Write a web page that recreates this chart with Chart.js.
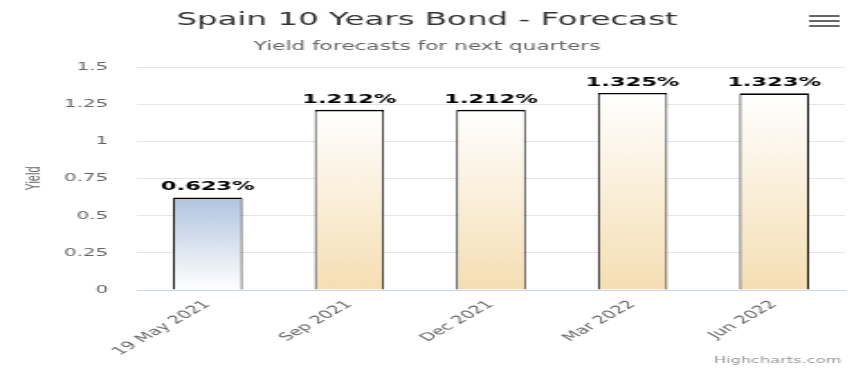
<!DOCTYPE html>
<html>
<head>
<meta charset="utf-8">
<script src="https://cdn.jsdelivr.net/npm/chart.js@4/dist/chart.umd.min.js"></script>
<style>
  html, body { margin: 0; padding: 0; background: #fff; }
</style>
</head>
<body>
<!-- drawn narrow, then stretched to the window like the reference -->
<canvas id="chart" width="474" height="368" style="display:block;width:854px;height:368px"></canvas>
<script>
/* ================= DATA ================= */
const TITLE = "Spain 10 Years Bond - Forecast";
const SUBTITLE = "Yield forecasts for next quarters";
const CREDITS = "Highcharts.com";

const categories = ["19 May 2021", "Sep 2021", "Dec 2021", "Mar 2022", "Jun 2022"];
const yields = [0.623, 1.212, 1.212, 1.325, 1.323];
const yTicks = [0, 0.25, 0.5, 0.75, 1, 1.25, 1.5];

/* gradient colours per bar, top and bottom */
const barTop = ["#b0c4de", "#ffffff", "#ffffff", "#ffffff", "#ffffff"];
const barBottom = ["#ffffff", "#f5deb3", "#f5deb3", "#f5deb3", "#f5deb3"];

const FONT = '"DejaVu Sans", Verdana, sans-serif';

/* ================= HELPERS ================= */
function barGradient(ctx) {
  const chart = ctx.chart;
  const i = ctx.dataIndex;
  if (!chart.chartArea || !chart.scales.y) return barBottom[i] || "#fff";
  const y = chart.scales.y;
  const top = y.getPixelForValue(yields[i]);
  const bottom = y.getPixelForValue(0);
  const g = chart.ctx.createLinearGradient(0, top, 0, bottom);
  g.addColorStop(0, barTop[i]);
  g.addColorStop(1, barBottom[i]);
  return g;
}

/* title, subtitle, menu icon, credits */
const frame = {
  id: "frame",
  afterDraw(chart) {
    const c = chart.ctx;
    c.save();
    c.textAlign = "center";
    c.textBaseline = "alphabetic";

    c.fillStyle = "#333333";
    c.font = "18px " + FONT;
    c.fillText(TITLE, chart.width / 2, 25);

    c.fillStyle = "#666666";
    c.font = "12px " + FONT;
    c.fillText(SUBTITLE, chart.width / 2, 50);

    // context menu (hamburger)
    c.strokeStyle = "#666666";
    c.lineWidth = 2;
    [16, 21, 26].forEach(yy => {
      c.beginPath();
      c.moveTo(449, yy);
      c.lineTo(466, yy);
      c.stroke();
    });

    c.textAlign = "right";
    c.fillStyle = "#999999";
    c.font = "9px " + FONT;
    c.fillText(CREDITS, 467, 363);
    c.restore();
  }
};

/* value labels above bars */
const valueLabels = {
  id: "valueLabels",
  afterDatasetsDraw(chart) {
    const c = chart.ctx;
    const meta = chart.getDatasetMeta(0);
    c.save();
    c.textAlign = "center";
    c.textBaseline = "alphabetic";
    c.font = "bold 12.5px " + FONT;
    c.lineJoin = "round";
    meta.data.forEach((bar, i) => {
      const txt = yields[i].toFixed(3) + "%";
      c.strokeStyle = "#ffffff";
      c.lineWidth = 2;
      c.strokeText(txt, bar.x, bar.y - 7);
      c.fillStyle = "#000000";
      c.fillText(txt, bar.x, bar.y - 7);
    });
    c.restore();
  }
};

/* ================= CHART ================= */
const ctx = document.getElementById("chart").getContext("2d");

new Chart(ctx, {
  type: "bar",
  data: {
    labels: categories,
    datasets: [{
      label: "Yield",
      data: yields,
      backgroundColor: barGradient,
      borderColor: "#000000",
      borderWidth: { top: 1.6, left: 1, right: 1, bottom: 0 },
      barPercentage: 0.49,
      categoryPercentage: 1
    }]
  },
  options: {
    responsive: false,
    devicePixelRatio: 1,
    animation: false,
    layout: { padding: { top: 67, right: 5, left: 0, bottom: 0 } },
    plugins: {
      legend: { display: false },
      tooltip: { enabled: false }
    },
    scales: {
      x: {
        grid: { display: false, drawTicks: false },
        border: { display: true, color: "#ccd6eb", width: 1 },
        ticks: {
          color: "#666666",
          font: { family: FONT, size: 11 },
          minRotation: 45,
          maxRotation: 45,
          padding: 8
        },
        afterFit(scale) { scale.height = 78; }
      },
      y: {
        min: 0,
        max: 1.5,
        afterBuildTicks(scale) {
          scale.ticks = yTicks.map(v => ({ value: v }));
        },
        grid: {
          drawTicks: false,
          color: c => (c.tick && c.tick.value === 0 ? "rgba(0,0,0,0)" : "#e6e6e6")
        },
        border: { display: false },
        ticks: {
          color: "#666666",
          font: { family: FONT, size: 11 },
          padding: 16,
          callback: v => String(v)
        },
        title: {
          display: true,
          text: "Yield",
          color: "#666666",
          font: { family: '"Liberation Sans", Arial, sans-serif', size: 11 },
          padding: { top: 12, bottom: 0 }
        },
        afterFit(scale) { scale.width = 76; }
      }
    }
  },
  plugins: [frame, valueLabels]
});
</script>
</body>
</html>
